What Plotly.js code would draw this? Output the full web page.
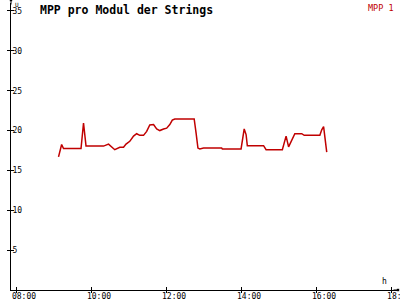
<!DOCTYPE html>
<html><head><meta charset="utf-8">
<script src="https://cdn.plot.ly/plotly-3.0.1.min.js"></script>
<style>html,body{margin:0;padding:0;background:#fff}#c{width:400px;height:300px}</style>
</head><body><div id="c"></div>
<script>
const times = ['09:08','09:13','09:16','09:44','09:48','09:52','10:20','10:28','10:38','10:46','10:52','10:56','11:02','11:08','11:13','11:18','11:24','11:29','11:34','11:40','11:45','11:50','11:56','12:01','12:06','12:10','12:14','12:45','12:48','12:51','12:54','13:00','13:29','13:30','14:00','14:02','14:05','14:08','14:10','14:36','14:40','15:06','15:09','15:12','15:16','15:21','15:26','15:37','15:41','16:06','16:09','16:12','16:14','16:16','16:17'];
const mpp1 = [16.7,18.25,17.75,17.75,20.95,18.05,18.05,18.3,17.6,17.9,17.9,18.3,18.65,19.3,19.6,19.4,19.4,19.9,20.7,20.75,20.2,20.0,20.2,20.3,20.75,21.3,21.45,21.45,19.7,17.8,17.7,17.8,17.8,17.7,17.7,18.9,20.2,19.5,18.1,18.1,17.6,17.6,18.65,19.3,17.95,18.9,19.6,19.6,19.4,19.4,20.1,20.5,19.3,17.8,17.3];
const yTicks = [5,10,15,20,25,30,35];
const xTickTimes = ['08:00','10:00','12:00','14:00','16:00','18:00'];
const day = '2024-06-01 ';
const xs = times.map(t => day + t);
const xr = [day + '07:52', day + '18:11'];
const xtv = xTickTimes.map(t => day + t);
const mono = 'DejaVu Sans Mono, monospace';
const font = {family: mono, size: 8, color: '#000'};
const red = '#c00000';
const data = [
  {x: xs, y: mpp1, type: 'scatter', mode: 'lines', line: {color: red, width: 1.5}, name: 'MPP 1', showlegend: false},
  {x: [xr[0]], y: [0], xaxis: 'x2', yaxis: 'y2', mode: 'markers', marker: {opacity: 0}, hoverinfo: 'skip', showlegend: false}
];
const layout = {
  width: 400, height: 300,
  margin: {l: 11, r: 2, t: 3, b: 10, pad: 0},
  paper_bgcolor: '#fff', plot_bgcolor: '#fff',
  font: font,
  showlegend: false,
  xaxis: {type: 'date', range: xr, tickvals: xtv, ticktext: xTickTimes, showgrid: false, zeroline: false,
    showline: true, linecolor: '#000', linewidth: 1, ticks: 'inside', ticklen: 3, tickcolor: '#000', tickfont: font,
    ticklabelshift: 8, ticklabelstandoff: -2, ticklabeloverflow: 'allow'},
  xaxis2: {type: 'date', range: xr, tickvals: xtv, showticklabels: false, overlaying: 'x', showgrid: false, zeroline: false,
    ticks: 'outside', ticklen: 2, tickcolor: '#000', showline: false},
  yaxis: {range: [0, 36], tickvals: yTicks, showgrid: false, zeroline: false, showline: true, linecolor: '#000', linewidth: 1,
    ticks: 'outside', ticklen: 3, tickcolor: '#000', ticklabelposition: 'inside', tickfont: font, ticklabeloverflow: 'allow'},
  yaxis2: {range: [0, 36], tickvals: yTicks, showticklabels: false, overlaying: 'y', showgrid: false, zeroline: false,
    ticks: 'inside', ticklen: 3, tickcolor: '#000', showline: false},
  annotations: [
    {text: '<b>MPP pro Modul der Strings</b>', xref: 'paper', yref: 'paper', x: 0.075, y: 1.0, xanchor: 'left', yanchor: 'top', showarrow: false,
      font: {family: mono, size: 11.5, color: '#000'}, xshift: -2, yshift: 2},
    {text: 'MPP 1', xref: 'paper', yref: 'paper', x: 1.0, y: 1.0, xanchor: 'right', yanchor: 'top', showarrow: false,
      font: {family: mono, size: 8.5, color: red}, yshift: 2, xshift: -2},
    {text: 'U', xref: 'paper', yref: 'paper', x: 0, y: 1.0, xanchor: 'left', yanchor: 'top', showarrow: false, xshift: 2, yshift: 4,
      font: {family: mono, size: 6, color: '#000'}},
    {text: 'h', xref: 'paper', yref: 'paper', x: 0.965, y: 0, xanchor: 'center', yanchor: 'bottom', showarrow: false, yshift: 2, font: font},
    {text: '', xref: 'paper', yref: 'paper', x: 0, y: 1.0, ax: 0, ay: 6, showarrow: true, arrowhead: 7, arrowsize: 0.6, arrowwidth: 1, arrowcolor: '#000', yshift: 3},
    {text: '', xref: 'paper', yref: 'paper', x: 1.0, y: 0, ax: -6, ay: 0, showarrow: true, arrowhead: 7, arrowsize: 0.6, arrowwidth: 1, arrowcolor: '#000'}
  ]
};
Plotly.newPlot('c', data, layout, {staticPlot: true, displayModeBar: false});
</script></body></html>
